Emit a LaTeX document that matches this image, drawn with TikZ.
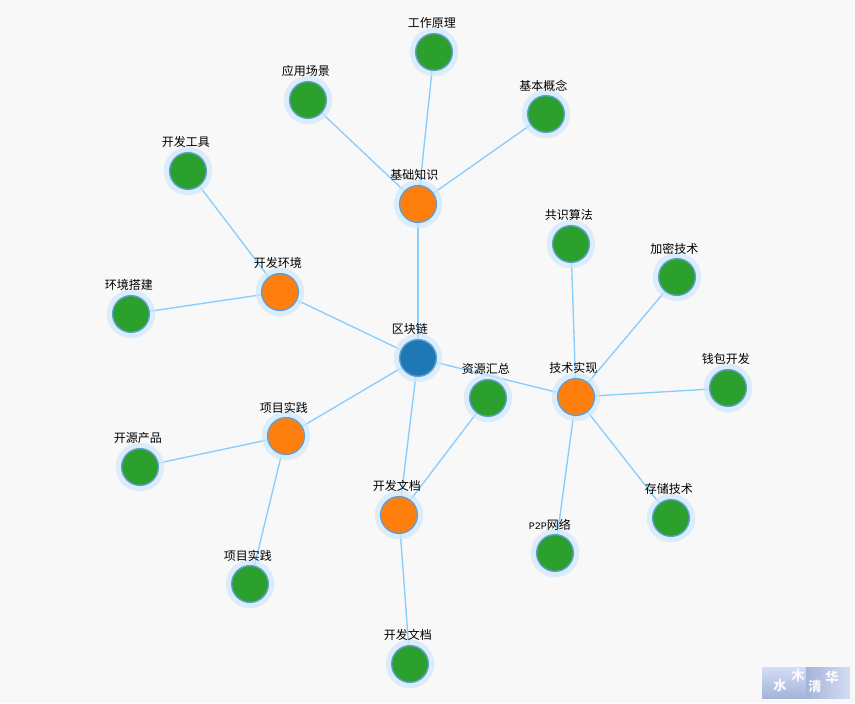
\documentclass[tikz,border=0pt]{standalone}
\usepackage{fontspec}
\setmainfont{Noto Sans CJK SC}
\newfontfamily\latinmono{Liberation Mono}
\usetikzlibrary{backgrounds,calc}
\definecolor{pagebg}{HTML}{F8F8F8}
\definecolor{edgec}{HTML}{87CEFF}
\definecolor{haloc}{HTML}{CFE8FC}
\definecolor{ringc}{HTML}{5F9FD6}
\definecolor{rootc}{HTML}{1F77B4}
\definecolor{midc}{HTML}{FF7F0E}
\definecolor{leafc}{HTML}{2CA02C}
\definecolor{wmbg}{HTML}{D3DDF5}
\definecolor{wmdark}{HTML}{A4B3D8}
\tikzset{
  x=0.75pt,y=-0.75pt,
  dot/.style={circle,inner sep=0pt,minimum size=27.6pt,draw=ringc,line width=1pt,
    preaction={draw=haloc,line width=8.8pt,draw opacity=.7}},
  rootdot/.style={dot,fill=rootc},
  middot/.style={dot,fill=midc},
  leafdot/.style={dot,fill=leafc},
  lab/.style={anchor=west,inner sep=0pt,font=\fontsize{9}{9}\selectfont,text=black},
  link/.style={draw=edgec,line width=1pt},
  wm/.style={inner sep=0pt,text=white,opacity=.9,font=\bfseries\fontsize{10}{10}\selectfont}
}
\newcommand{\nd}[6][-26.5]{%
  \node[#5] (#2) at (#3,#4) {};
  \node[lab] (#2-l) at ($(#2)+(#1,-28.6)$) {#6};
}
\begin{document}
\begin{tikzpicture}
\useasboundingbox (0,0) rectangle (855,703);
\nd{root}{418}{358}{rootdot}{区块链}
\nd[-28]{jc}{418}{204}{middot}{基础知识}
\nd{hj}{280}{292}{middot}{开发环境}
\nd{xm}{286}{436}{middot}{项目实践}
\nd{wd}{399}{515}{middot}{开发文档}
\nd[-27]{js}{576}{397}{middot}{技术实现}
\nd{zy}{488}{398}{leafdot}{资源汇总}
\nd{gz}{434}{52}{leafdot}{工作原理}
\nd{yy}{308}{100}{leafdot}{应用场景}
\nd[-27]{gn}{546}{114}{leafdot}{基本概念}
\nd{gj}{188}{171}{leafdot}{开发工具}
\nd{dj}{131}{314}{leafdot}{环境搭建}
\nd{ky}{140}{467}{leafdot}{开源产品}
\nd{xs}{250}{584}{leafdot}{项目实践}
\nd{wx}{410}{664}{leafdot}{开发文档}
\nd{gs}{571}{244}{leafdot}{共识算法}
\nd[-27]{jm}{677}{277}{leafdot}{加密技术}
\nd{qb}{728}{388}{leafdot}{钱包开发}
\nd{cc}{671}{518}{leafdot}{存储技术}
\nd{pp}{555}{553}{leafdot}{{\latinmono\fontsize{7.5}{9}\selectfont P2P}网络}
\begin{pgfonlayer}{background}
  \fill[pagebg] (0,0) rectangle (855,703);
  \foreach \a/\b in {root/jc,root/hj,root/xm,root/wd,root/js,
    jc/gz,jc/yy,jc/gn,hj/gj,hj/dj,xm/ky,xm/xs,wd/zy,wd/wx,
    js/gs,js/jm,js/qb,js/cc,js/pp}
    \draw[link] (\a) -- (\b);
\end{pgfonlayer}
\shade[left color=wmbg,right color=wmdark,shading angle=0] (762,667) rectangle (806,698);
\shade[left color=wmdark,right color=wmbg] (806,667) rectangle (850,698);
\node[wm] (w1) at (780,685) {水};
\node[wm] (w2) at (798,675) {木};
\node[wm] (w3) at (815,686) {清};
\node[wm] (w4) at (832,677) {华};
\end{tikzpicture}
\end{document}
